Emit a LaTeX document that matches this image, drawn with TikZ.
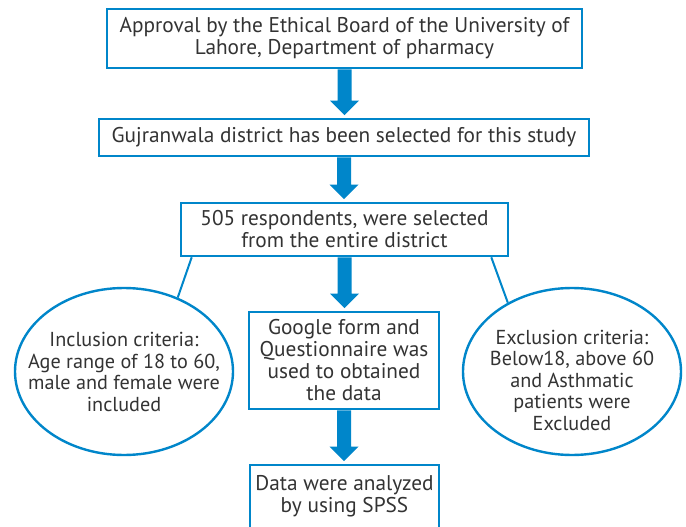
\documentclass[tikz,border=0pt]{standalone}
\usepackage{fontspec}
\setmainfont{PT Sans}
\usetikzlibrary{shapes.geometric,calc}
\definecolor{flowblue}{RGB}{0,134,202}
\definecolor{flowtext}{RGB}{51,51,51}
\tikzset{
  flowbox/.style={draw=flowblue, line width=2.6pt, fill=white, inner sep=0pt,
    align=center, text=flowtext, font=\fontsize{21.3}{22}\selectfont},
  flowoval/.style={ellipse, draw=flowblue, line width=2.4pt, fill=white, inner sep=0pt,
    minimum width=218pt, minimum height=167pt},
  ovaltext/.style={align=center, text=flowtext, inner sep=0pt,
    font=\fontsize{20.2}{21.5}\selectfont},
  linkline/.style={draw=flowblue, line width=2pt},
}
% thick block arrow from the bottom of one box to the top of the next
\newcommand{\blockarrow}[2]{%
  \fill[flowblue] let \p1=(#1.south), \p2=(#2.north) in
    (\x1-7pt,\y1) -- (\x1-7pt,\y2+17pt) -- (\x1-14.5pt,\y2+17pt) --
    (\x1,\y2+2.5pt) -- (\x1+14.5pt,\y2+17pt) -- (\x1+7pt,\y2+17pt) --
    (\x1+7pt,\y1) -- cycle;}
\begin{document}
\begin{tikzpicture}[x=1pt,y=-1pt]
\useasboundingbox (0,0) rectangle (686,527);
\clip (0,0) rectangle (686,527);
\fill[white] (0,0) rectangle (686,527);

\node[flowbox, minimum width=475pt, minimum height=59pt] (approval) at (344.5,38.5)
  {Approval by the Ethical Board of the University of\\Lahore, Department of pharmacy};
\node[flowbox, minimum width=490pt, minimum height=37pt] (district) at (344,137.5)
  {Gujranwala district has been selected for this study};
\node[flowbox, minimum width=327pt, minimum height=53pt] (sample) at (344.5,229.5)
  {505 respondents, were selected\\from the entire district};
\node[flowbox, minimum width=190pt, minimum height=97pt] (form) at (344,360.5)
  {Google form and\\Questionnaire was\\used to obtained\\the data};
\node[flowbox, minimum width=189pt, minimum height=63pt] (spss) at (344.5,496.5)
  {Data were analyzed\\by using SPSS};

\node[flowoval] (incl) at (124,371.5) {};
\node[ovaltext] (incltext) at (124,372)
  {Inclusion criteria:\\Age range of 18 to 60,\\male and female were\\included};
\node[flowoval] (excl) at (572,371.5) {};
\node[ovaltext] (excltext) at (572,380)
  {Exclusion criteria:\\Below18, above 60\\and Asthmatic\\patients were\\Excluded};

\blockarrow{approval}{district}
\blockarrow{district}{sample}
\blockarrow{sample}{form}
\blockarrow{form}{spss}

\draw[linkline] ([xshift=12pt]sample.south west) -- (incl.54);
\draw[linkline] ([xshift=-18pt]sample.south east) -- (excl.133);
\end{tikzpicture}
\end{document}
